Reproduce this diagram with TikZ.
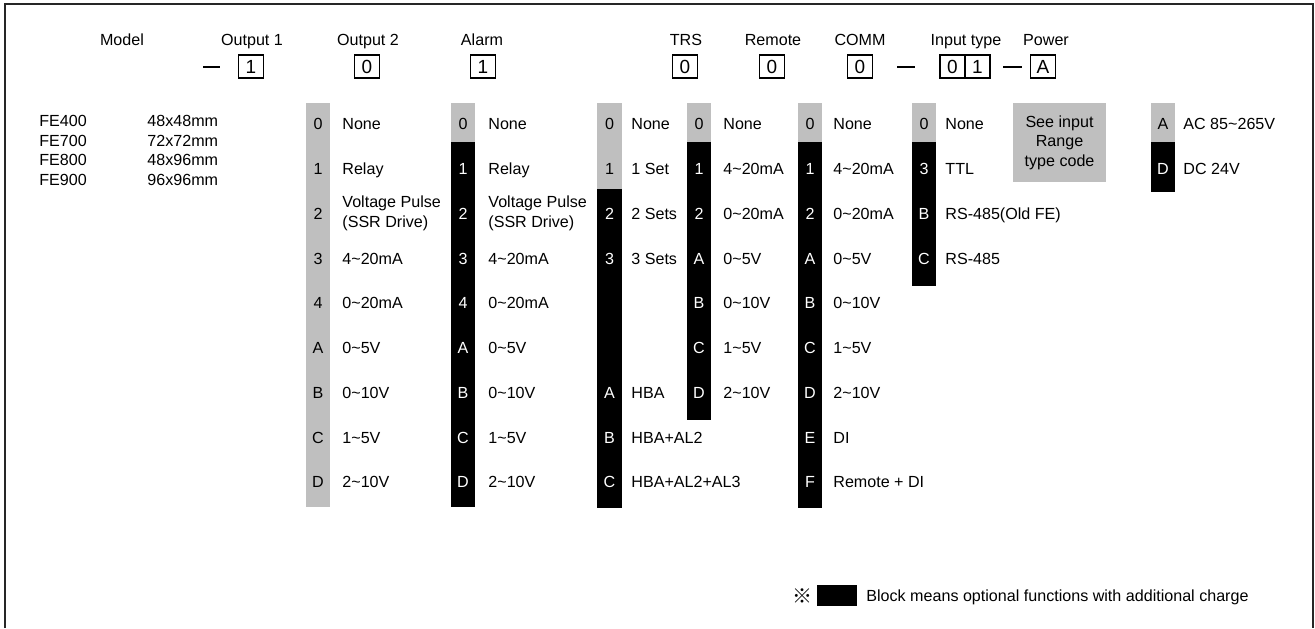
\documentclass[tikz,border=0pt]{standalone}
\usepackage{fontspec}
\setmainfont{Liberation Sans}
\newfontfamily\cjkfont{Noto Sans CJK SC}
\definecolor{barg}{RGB}{191,191,191}
\newcommand\tld{\textasciitilde}
\newcommand\optcol[5]{%
  \foreach \rw/\cd/\tx in {#5}{%
    \ifnum\rw<#4\relax\def\cc{black}\else\def\cc{white}\fi
    \node[code, text=\cc] (#1c\rw) at (#2,{124+44.75*\rw}) {\cd};
    \node[desc] (#1t\rw) at (#3,{124+44.75*\rw}) {\tx};
  }}
\begin{document}
\begin{tikzpicture}[x=0.5pt,y=-0.5pt,
  font=\fontsize{8.05}{9.7}\selectfont,
  hdr/.style={inner sep=0, text height=5.8pt, text depth=0pt, anchor=center},
  code/.style={inner sep=0, text height=5.8pt, text depth=0pt, anchor=center},
  desc/.style={inner sep=0, text height=5.8pt, text depth=0pt, anchor=west},
  desc2/.style={inner sep=0, anchor=west, align=left, font=\fontsize{8.05}{10.3}\selectfont},
  selbox/.style={draw, line width=0.6pt, minimum width=12.5pt, minimum height=11.5pt, inner sep=0, font=\fontsize{9.5}{10}\selectfont, text height=6.8pt, text depth=0pt},
  dashline/.style={line width=0.55pt},
  frameline/.style={line width=0.8pt, draw=black!85}]
\useasboundingbox (0,0) rectangle (1315,628);
% frame (open at bottom)
\draw[frameline] (5,628) -- (5,4) -- (1313,4) -- (1313,628);

% headers
\node[hdr] (hmodel) at (122,40) {Model};
\node[hdr] (hout1) at (252,40) {Output 1};
\node[hdr] (hout2) at (368,40) {Output 2};
\node[hdr] (halarm) at (482,40) {Alarm};
\node[hdr] (htrs) at (686,40) {TRS};
\node[hdr] (hrem) at (773,40) {Remote};
\node[hdr] (hcomm) at (860,40) {COMM};
\node[hdr] (hin) at (966,40) {Input type};
\node[hdr] (hpow) at (1046,40) {Power};

% selection boxes
\node[selbox] (bout1) at (251,66.5) {1};
\node[selbox] (bout2) at (367,66.5) {0};
\node[selbox] (balarm) at (483,66.5) {1};
\node[selbox] (btrs) at (685,66.5) {0};
\node[selbox] (brem) at (772,66.5) {0};
\node[selbox] (bcomm) at (860,66.5) {0};
\node[selbox] (bin1) at (952.5,66.5) {0};
\node[selbox] (bin2) at (977.5,66.5) {1};
\node[selbox] (bpow) at (1043,66.5) {A};

% dashes
\coordinate (d1a) at (203,67); \coordinate (d1b) at (220,67);
\coordinate (d2a) at (897,67); \coordinate (d2b) at (915,67);
\coordinate (d3a) at (1003,67); \coordinate (d3b) at (1022,67);
\draw[dashline] (d1a) -- (d1b);
\draw[dashline] (d2a) -- (d2b);
\draw[dashline] (d3a) -- (d3b);

% model list
\node[desc] (m1) at (39,121) {FE400};
\node[desc] (m2) at (39,140.5) {FE700};
\node[desc] (m3) at (39,160) {FE800};
\node[desc] (m4) at (39,179.5) {FE900};
\node[desc] (s1) at (147,121) {48x48mm};
\node[desc] (s2) at (147,140.5) {72x72mm};
\node[desc] (s3) at (147,160) {48x96mm};
\node[desc] (s4) at (147,179.5) {96x96mm};

% bars
\fill[barg] (306,103) rectangle (330,507);
\fill[barg] (451,103) rectangle (475,142);
\fill[black] (451,142) rectangle (475,507);
\fill[barg] (597,103) rectangle (622,189);
\fill[black] (597,189) rectangle (622,508);
\fill[barg] (687,103) rectangle (711,142);
\fill[black] (687,142) rectangle (711,420);
\fill[barg] (798,103) rectangle (822,142);
\fill[black] (798,142) rectangle (822,508);
\fill[barg] (912,103) rectangle (936,142);
\fill[black] (912,142) rectangle (936,286);
\fill[barg] (1151,103) rectangle (1175,142);
\fill[black] (1151,142) rectangle (1175,192);

% Output 1
\optcol{oa}{318}{342}{9}{0/0/None,1/1/Relay,3/3/4\tld20mA,4/4/0\tld20mA,5/A/0\tld5V,6/B/0\tld10V,7/C/1\tld5V,8/D/2\tld10V}
\node[code] (oac2) at (318,213.5) {2};
\node[desc2] (oat2) at (342,213.5) {Voltage Pulse\\(SSR Drive)};
% Output 2
\optcol{ob}{463}{488}{1}{0/0/None,1/1/Relay,3/3/4\tld20mA,4/4/0\tld20mA,5/A/0\tld5V,6/B/0\tld10V,7/C/1\tld5V,8/D/2\tld10V}
\node[code, text=white] (obc2) at (463,213.5) {2};
\node[desc2] (obt2) at (488,213.5) {Voltage Pulse\\(SSR Drive)};
% Alarm
\optcol{al}{609.5}{631}{2}{0/0/None,1/1/1 Set,2/2/2 Sets,3/3/3 Sets,6/A/HBA,7/B/HBA+AL2,8/C/HBA+AL2+AL3}
% TRS
\optcol{tr}{699}{723}{1}{0/0/None,1/1/4\tld20mA,2/2/0\tld20mA,3/A/0\tld5V,4/B/0\tld10V,5/C/1\tld5V,6/D/2\tld10V}
% Remote
\optcol{re}{810}{833}{1}{0/0/None,1/1/4\tld20mA,2/2/0\tld20mA,3/A/0\tld5V,4/B/0\tld10V,5/C/1\tld5V,6/D/2\tld10V,7/E/DI,8/F/Remote + DI}
% COMM
\optcol{co}{924}{945}{1}{0/0/None,1/3/TTL,2/B/RS-485(Old FE),3/C/RS-485}
% Input type
\node[fill=barg, minimum width=46.5pt, minimum height=39.5pt, inner sep=0, align=center, font=\fontsize{8.05}{9.75}\selectfont] (inbox) at (1059.5,142.5) {See input\\Range\\type code};
% Power
\optcol{pw}{1163}{1183}{1}{0/A/AC 85\tld265V,1/D/DC 24V}

% legend
\node[inner sep=0, font=\cjkfont\fontsize{10}{10}\selectfont] (refmark) at (802.5,596) {※};
\node[fill=black, minimum width=20pt, minimum height=10.5pt, inner sep=0] (lgbox) at (837,595.5) {};
\node[desc] (lgtext) at (866,596) {Block means optional functions with additional charge};
\end{tikzpicture}
\end{document}
